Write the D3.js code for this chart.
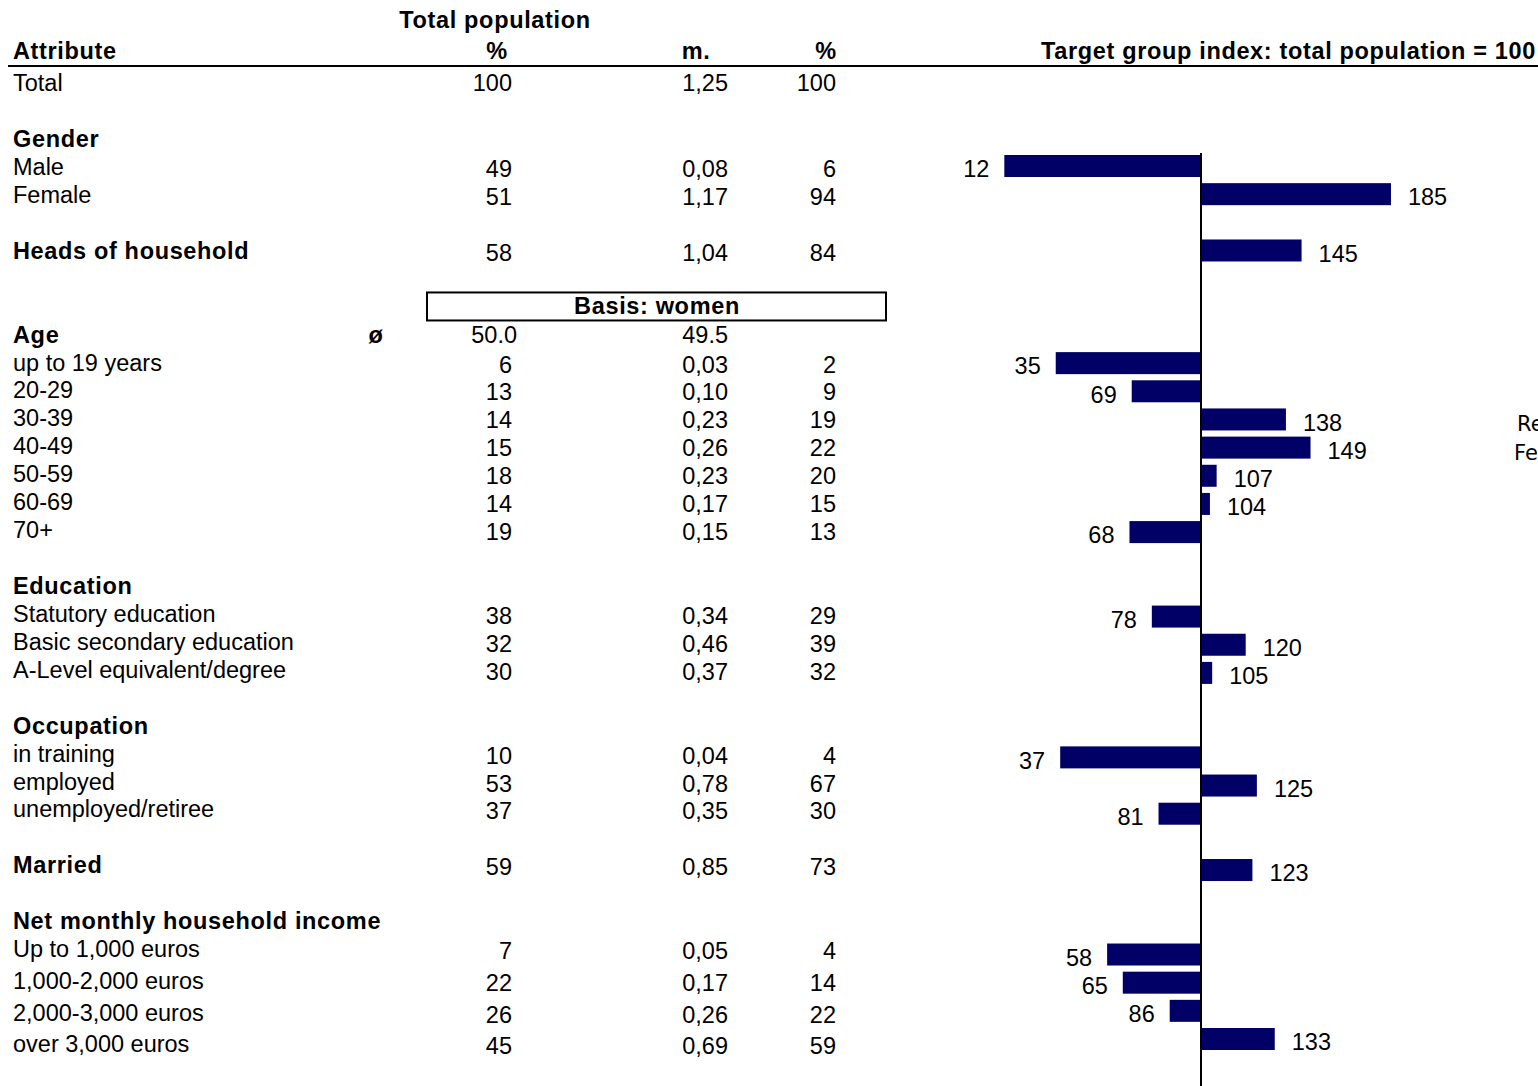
<!DOCTYPE html>
<html>
<head>
<meta charset="utf-8">
<script src="https://cdn.jsdelivr.net/npm/d3@7"></script>
<style>
  body { margin: 0; background: #fff; }
  svg text { font-family: "Liberation Sans", Arial, sans-serif; font-size: 23.5px; fill: #000; }
  svg text.bold { font-weight: bold; letter-spacing: 0.65px; }
</style>
</head>
<body>
<div id="chart"></div>
<script>
// sheet layout: one entry per row of the table, "" = empty row
var sheetRows = ["Total", "", "Gender", "Male", "Female", "", "Heads of household", "",
    "Basis: women", "Age", "up to 19 years", "20-29", "30-39", "40-49", "50-59", "60-69", "70+", "",
    "Education", "Statutory education", "Basic secondary education", "A-Level equivalent/degree", "",
    "Occupation", "in training", "employed", "unemployed/retiree", "",
    "Married", "",
    "Net monthly household income", "Up to 1,000 euros", "1,000-2,000 euros", "2,000-3,000 euros", "over 3,000 euros"];

var headings = ["Gender", "Heads of household", "Age", "Education", "Occupation", "Married", "Net monthly household income"];

// rows that carry values
var categories = ["Male", "Female", "Heads of household", "up to 19 years", "20-29", "30-39", "40-49", "50-59", "60-69", "70+",
    "Statutory education", "Basic secondary education", "A-Level equivalent/degree",
    "in training", "employed", "unemployed/retiree", "Married",
    "Up to 1,000 euros", "1,000-2,000 euros", "2,000-3,000 euros", "over 3,000 euros"];
var popPct   = [49, 51, 58, 6, 13, 14, 15, 18, 14, 19, 38, 32, 30, 10, 53, 37, 59, 7, 22, 26, 45];
var womenM   = [0.08, 1.17, 1.04, 0.03, 0.10, 0.23, 0.26, 0.23, 0.17, 0.15, 0.34, 0.46, 0.37, 0.04, 0.78, 0.35, 0.85, 0.05, 0.17, 0.26, 0.69];
var womenPct = [6, 94, 84, 2, 9, 19, 22, 20, 15, 13, 29, 39, 32, 4, 67, 30, 73, 4, 14, 22, 59];
var tgIndex  = [12, 185, 145, 35, 69, 138, 149, 107, 104, 68, 78, 120, 105, 37, 125, 81, 123, 58, 65, 86, 133];

var totalRow = [100, 1.25, 100];
var ageAvg = [50.0, 49.5];

var colHeads = ["%", "m.", "%"];

var width = 1538, height = 1086;

var svg = d3.select("#chart").append("svg")
    .attr("width", width)
    .attr("height", height);

var commaFmt = function(v) { return d3.format(".2f")(v).replace(".", ","); };

// text rows (the last block of rows is a bit taller)
var yText = d3.scaleLinear().domain([0, 30, 31, 34]).range([83, 921, 949, 1044]);
// bar rows of the chart
var yBar = d3.scaleLinear().domain([3, 34]).range([166, 1039]);
// index scale, centred on 100
var x = d3.scaleLinear().domain([0, 200]).range([977.5, 1424.5]);

var colX = [512, 728, 836];

// header
svg.append("text").attr("class", "bold").attr("x", 495).attr("y", 20).attr("dy", "0.35em")
    .attr("text-anchor", "middle").text("Total population");
svg.append("text").attr("class", "bold").attr("x", 13).attr("y", 51).attr("dy", "0.35em").text("Attribute");
svg.selectAll(".colhead").data(colHeads).enter().append("text")
    .attr("class", "bold colhead")
    .attr("x", function(d, i) { return [497, 696, 826][i]; })
    .attr("y", 51).attr("dy", "0.35em")
    .attr("text-anchor", "middle")
    .text(function(d) { return d; });
svg.append("text").attr("class", "bold").attr("x", 1536).attr("y", 51).attr("dy", "0.35em")
    .attr("text-anchor", "end").text("Target group index: total population = 100");
svg.append("line").attr("x1", 8).attr("x2", width).attr("y1", 66).attr("y2", 66)
    .attr("stroke", "#000").attr("stroke-width", 2);

// row labels
var labelRows = sheetRows.map(function(d, i) { return {name: d, i: i}; })
    .filter(function(d) { return d.name !== "" && d.name !== "Basis: women"; });

svg.selectAll(".lab").data(labelRows).enter().append("text")
    .attr("class", function(d) { return headings.indexOf(d.name) >= 0 ? "lab bold" : "lab"; })
    .attr("x", 13)
    .attr("y", function(d) { return yText(d.i); })
    .attr("dy", "0.35em")
    .text(function(d) { return d.name; });

// total row
var iTotal = sheetRows.indexOf("Total");
svg.selectAll(".tot").data(totalRow).enter().append("text")
    .attr("x", function(d, i) { return colX[i]; })
    .attr("y", yText(iTotal)).attr("dy", "0.35em")
    .attr("text-anchor", "end")
    .text(function(d, i) { return i === 1 ? commaFmt(d) : d; });

// basis box
var iBasis = sheetRows.indexOf("Basis: women");
svg.append("rect").attr("x", 427).attr("y", yText(iBasis) - 14).attr("width", 459).attr("height", 28)
    .attr("fill", "none").attr("stroke", "#000").attr("stroke-width", 2);
svg.append("text").attr("class", "bold").attr("x", 657).attr("y", yText(iBasis) - 1).attr("dy", "0.35em")
    .attr("text-anchor", "middle").text("Basis: women");

// age average
var iAge = sheetRows.indexOf("Age");
svg.append("text").attr("class", "bold").attr("x", 376).attr("y", yText(iAge)).attr("dy", "0.35em")
    .attr("text-anchor", "middle").text("ø");
svg.selectAll(".avg").data(ageAvg).enter().append("text")
    .attr("x", function(d, i) { return [517, 728][i]; })
    .attr("y", yText(iAge)).attr("dy", "0.35em")
    .attr("text-anchor", "end")
    .text(function(d) { return d3.format(".1f")(d); });

// value rows
var data = categories.map(function(c, k) {
    return {name: c, i: sheetRows.indexOf(c), pop: popPct[k], m: womenM[k], pct: womenPct[k], idx: tgIndex[k]};
});

var rowsG = svg.append("g");
[["pop", 0], ["m", 1], ["pct", 2]].forEach(function(c) {
    rowsG.selectAll(".v" + c[0]).data(data).enter().append("text")
        .attr("x", colX[c[1]])
        .attr("y", function(d) { return yText(d.i) + 2; })
        .attr("dy", "0.35em")
        .attr("text-anchor", "end")
        .text(function(d) { return c[0] === "m" ? commaFmt(d.m) : d[c[0]]; });
});

// bars
svg.selectAll(".bar").data(data).enter().append("rect")
    .attr("x", function(d) { return Math.min(x(d.idx), x(100)); })
    .attr("y", function(d) { return yBar(d.i) - 11; })
    .attr("width", function(d) { return Math.abs(x(d.idx) - x(100)); })
    .attr("height", 22)
    .attr("fill", "#000066");

svg.selectAll(".blab").data(data).enter().append("text")
    .attr("x", function(d) { return d.idx >= 100 ? x(d.idx) + 17 : x(d.idx) - 15; })
    .attr("y", function(d) { return yBar(d.i) + 3; })
    .attr("dy", "0.35em")
    .attr("text-anchor", function(d) { return d.idx >= 100 ? "start" : "end"; })
    .text(function(d) { return d.idx; });

// axis at 100
svg.append("line").attr("x1", x(100)).attr("x2", x(100)).attr("y1", 153).attr("y2", height)
    .attr("stroke", "#000").attr("stroke-width", 2);

// text cut off at the right edge (as in the original sheet)
svg.append("text").attr("x", 1517).attr("y", 424).attr("dy", "0.35em")
    .style("font-family", "'DejaVu Sans', sans-serif").style("font-size", "21px").text("Re");
svg.append("text").attr("x", 1514).attr("y", 453).attr("dy", "0.35em")
    .style("font-family", "'DejaVu Sans', sans-serif").style("font-size", "21px").text("Fe");
</script>
</body>
</html>
